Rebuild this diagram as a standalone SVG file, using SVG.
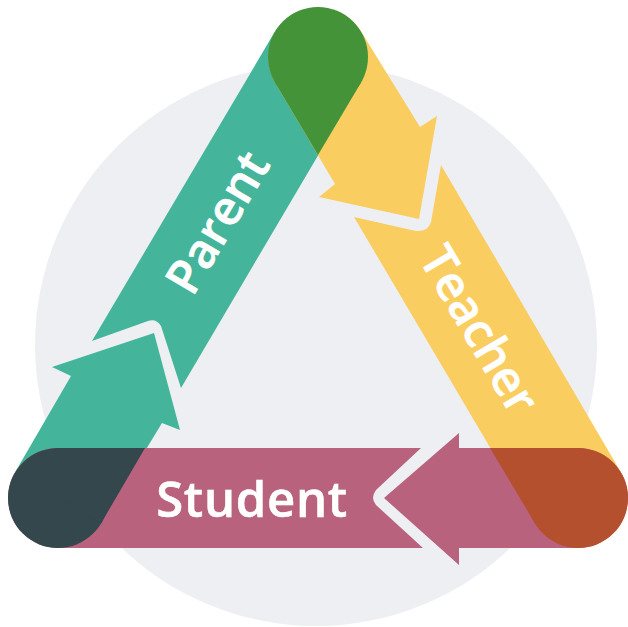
<svg xmlns="http://www.w3.org/2000/svg" width="628" height="627" viewBox="0 0 628 627">
<style>
.label{font-family:"Open Sans","Noto Sans",sans-serif;font-weight:600;font-size:49px;fill:#fff;stroke:#fff;stroke-width:.6px;text-anchor:middle}
.student-label{letter-spacing:.7px}
.slanted{font-size:48px}
</style>
<rect width="628" height="627" fill="#fff"/>
<circle id="background" cx="316" cy="345" r="281" fill="#EEEFF3"/>
<g id="parent" fill="#44B59A">
<path d="M14.94 472.6L71 376L52 367L154 333L180 430L162 423L101.06 523.4A50 50 0 0 1 14.94 472.6Z"/>
<path d="M92 341L274.94 31.6A50 50 0 0 1 361.06 82.4L181 388L161 326Q156 318 148 321Z"/>
<text class="label slanted" transform="translate(232 231) rotate(-59.5)">Parent</text>
</g>
<g id="teacher" fill="#FACD60">
<path d="M361.06 31.6L420 127L437 116L419 219L319 197L335 184L274.94 82.4A50 50 0 0 1 361.06 31.6Z"/>
<path d="M354 217L416 231Q428 232 431 222L441 165L621.06 472.6A50 50 0 0 1 534.94 523.4Z"/>
<text class="label slanted" transform="translate(465 338) rotate(59.5)">Teacher</text>
</g>
<g id="student" fill="#B9627E">
<path d="M58 448H421L376 490Q370 498 376 505L423 548H58A50 50 0 0 1 58 448Z"/>
<path d="M578 448A50 50 0 0 1 578 548H459V565L384 498L459 433V448Z"/>
</g>
<g id="overlaps">
<g fill="#33474D"><circle cx="58" cy="498" r="50"/><path d="M58 448H145L101.06 523.4L58 498Z"/></g>
<g fill="#459338"><circle cx="318" cy="57" r="50"/><path d="M274.94 82.4L318 155L361.06 82.4L318 57Z"/></g>
<g fill="#B5502F"><circle cx="578" cy="498" r="50"/><path d="M490 448H578V498L534.94 523.4Z"/></g>
</g>
<text class="label student-label" x="252" y="517">Student</text>
</svg>
